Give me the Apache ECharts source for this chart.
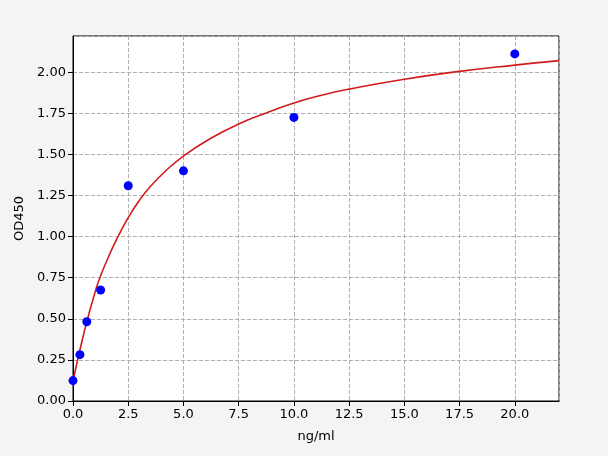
<!DOCTYPE html>
<html><head><meta charset="utf-8">
<script src="https://cdn.jsdelivr.net/npm/echarts@6/dist/echarts.min.js"></script>
<style>html,body{margin:0;padding:0;background:#f4f4f4}#c{width:608px;height:456px}</style>
</head><body><div id="c"></div>
<script>
const conc = [0, 0.3125, 0.625, 1.25, 2.5, 5, 10, 20];
const od = [0.124, 0.282, 0.482, 0.675, 1.309, 1.40, 1.725, 2.111];
const curveX = [0, 0.09, 0.21, 0.4, 0.62, 0.9, 1.15, 1.52, 2.0, 2.5, 3.0, 3.5, 4.2, 5, 6.2, 7.5, 8.8, 10, 11.25, 12.5, 15, 17.5, 20, 22];
const curveY = [0.12, 0.177, 0.25, 0.36, 0.48, 0.615, 0.725, 0.85, 0.99, 1.115, 1.22, 1.305, 1.40, 1.49, 1.595, 1.685, 1.755, 1.813, 1.86, 1.897, 1.957, 2.005, 2.043, 2.07];
const xTicks = ['0.0','2.5','5.0','7.5','10.0','12.5','15.0','17.5','20.0'];
const yTicks = ['0.00','0.25','0.50','0.75','1.00','1.25','1.50','1.75','2.00'];

const font = 'DejaVu Sans';
const chart = echarts.init(document.getElementById('c'));
chart.setOption({
  backgroundColor: '#f4f4f4',
  animation: false,
  grid: {left: 73, right: 49, top: 36, bottom: 55, show: true, backgroundColor: '#ffffff', borderColor: '#000', borderWidth: 1},
  xAxis: {
    type: 'value', min: 0, max: 22, interval: 2.5,
    name: 'ng/ml', nameLocation: 'middle', nameGap: 29,
    nameTextStyle: {fontFamily: font, fontSize: 13, color: '#000'},
    axisLine: {show: true, onZero: false, lineStyle: {color: '#000', width: 1}},
    axisTick: {show: true, length: 5, lineStyle: {color: '#000'}},
    axisLabel: {fontFamily: font, fontSize: 13, color: '#000', margin: 7, showMaxLabel: false,
      formatter: v => { const i = Math.round(v / 2.5); return (Math.abs(v - i*2.5) < 1e-6 && xTicks[i]) ? xTicks[i] : ''; }},
    splitLine: {show: true, lineStyle: {color: '#b0b0b0', type: [4, 2], width: 1}}
  },
  yAxis: {
    type: 'value', min: 0, max: 2.22, interval: 0.25,
    name: 'OD450', nameLocation: 'middle', nameGap: 45, nameRotate: 90,
    nameTextStyle: {fontFamily: font, fontSize: 13, color: '#000'},
    axisLine: {show: true, onZero: false, lineStyle: {color: '#000', width: 1}},
    axisTick: {show: true, length: 5, lineStyle: {color: '#000'}},
    axisLabel: {fontFamily: font, fontSize: 13, color: '#000', margin: 7, showMaxLabel: false,
      formatter: v => { const i = Math.round(v / 0.25); return (Math.abs(v - i*0.25) < 1e-6 && yTicks[i]) ? yTicks[i] : ''; }},
    splitLine: {show: true, lineStyle: {color: '#b0b0b0', type: [4, 2], width: 1}}
  },
  series: [
    {type: 'line', data: curveX.map((x, i) => [x, curveY[i]]), smooth: 0.5, showSymbol: false,
     lineStyle: {color: '#d01c1c', width: 1.6}, z: 2},
    {type: 'scatter', data: conc.map((x, i) => [x, od[i]]), symbolSize: 9,
     itemStyle: {color: '#0000ff', opacity: 1}, z: 3}
  ]
});
</script></body></html>
